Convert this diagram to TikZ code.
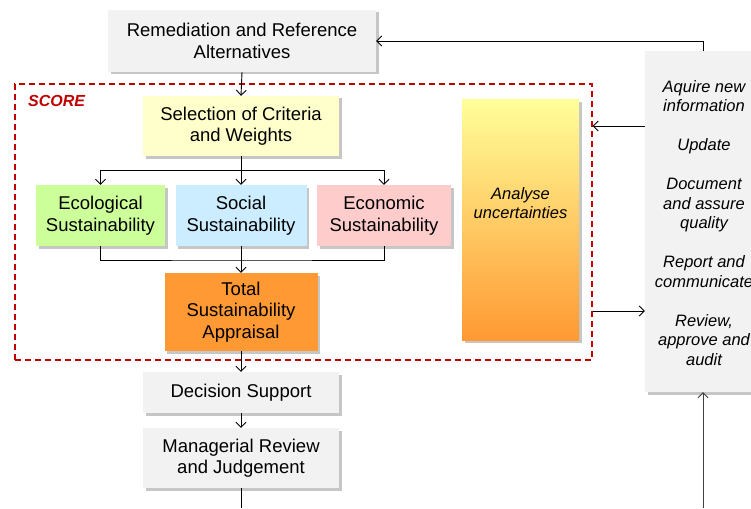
\documentclass[tikz,border=0pt]{standalone}
\usepackage{fontspec}
\setmainfont{Liberation Sans}
\usetikzlibrary{arrows.meta,shadows}
\definecolor{boxgray}{HTML}{F2F2F2}
\definecolor{selyellow}{HTML}{FFFFCC}
\definecolor{ecogreen}{HTML}{CCFF99}
\definecolor{socblue}{HTML}{CCECFF}
\definecolor{econpink}{HTML}{FFCCCC}
\definecolor{totorange}{HTML}{FF9933}
\definecolor{anatop}{HTML}{FFFF99}
\definecolor{scorered}{HTML}{C00000}
\definecolor{linegray}{HTML}{404040}
\tikzset{
  boxbase/.style={draw=none, align=center, inner sep=0pt,
    font=\fontsize{18.5}{21.5}\selectfont,
    drop shadow={shadow xshift=2.5pt, shadow yshift=-2.5pt, opacity=0.45, fill=gray}},
  graybox/.style={boxbase, fill=boxgray},
  conn/.style={draw=black, line width=0.9pt},
  arr/.style={conn, -{Straight Barb[length=5pt,width=10pt]}},
  sidetext/.style={align=center, inner sep=0pt, font=\fontsize{16.5}{19.5}\selectfont\itshape}
}
\begin{document}
\begin{tikzpicture}[x=1pt,y=-1pt]
\useasboundingbox (0,0) rectangle (751,508);
% score frame
\node[draw=scorered, line width=1.4pt, dash pattern=on 6pt off 4pt, minimum width=577pt, minimum height=276pt, inner sep=0pt] (score) at (303.5,222) {};
\node[anchor=west, inner sep=0pt, text=scorered, font=\fontsize{16}{19}\selectfont\bfseries\itshape] (scorelbl) at (28,101) {SCORE};
% main boxes
\node[graybox, minimum width=268pt, minimum height=62pt] (rem) at (242,41) {Remediation and Reference\\Alternatives};
\node[boxbase, fill=selyellow, minimum width=196pt, minimum height=60pt] (sel) at (241,126) {Selection of Criteria\\and Weights};
\node[boxbase, fill=ecogreen, minimum width=129pt, minimum height=61pt] (eco) at (100.5,215.5) {Ecological\\Sustainability};
\node[boxbase, fill=socblue, minimum width=131pt, minimum height=61pt] (soc) at (241,215.5) {Social\\Sustainability};
\node[boxbase, fill=econpink, minimum width=134pt, minimum height=61pt] (econ) at (384,215.5) {Economic\\Sustainability};
\node[boxbase, fill=totorange, minimum width=153pt, minimum height=78pt] (tot) at (241,312) {Total\\Sustainability\\Appraisal};
\node[boxbase, top color=anatop, bottom color=totorange, middle color=anatop!50!totorange, minimum width=117pt, minimum height=240pt] (ana) at (520.5,220) {};
\node[sidetext] (anatext) at (520.5,203) {Analyse\\uncertainties};
\node[graybox, minimum width=196pt, minimum height=41pt] (dec) at (241,392.5) {Decision Support};
\node[graybox, minimum width=196pt, minimum height=60pt] (man) at (241,458) {Managerial Review\\and Judgement};
% right box
\node[graybox, minimum width=116pt, minimum height=341pt] (rbox) at (703,221.5) {};
\node[sidetext] (rtext) at (704,223) {Aquire new\\information\\[19.5pt]Update\\[19.5pt]Document\\and assure\\quality\\[19.5pt]Report and\\communicate\\[19.5pt]Review,\\approve and\\audit};
% coordinates
\coordinate (br) at (241,170);
\coordinate (mg) at (241,260);
\coordinate (mbot) at (241,508);
\coordinate (rbot) at (703,508);
% connectors
\draw[arr] (rem.south) -- (sel.north);
\draw[conn] (sel.south) -- (br);
\draw[arr] (br) -| (eco.north);
\draw[arr] (br) -| (econ.north);
\draw[arr] (br) -- (soc.north);
\draw[conn] (eco.south) |- (mg) -| (econ.south);
\draw[arr] (soc.south) -- (tot.north);
\draw[arr] (tot.south) -- (dec.north);
\draw[arr] (dec.south) -- (man.north);
\draw[conn] (man.south) -- (mbot);
\draw[arr] (rbox.north) |- (rem.east);
\draw[arr] (rbox.west |- 0,126) -- (score.east |- 0,126);
\draw[arr] (score.east |- 0,311) -- (rbox.west |- 0,311);
\draw[arr, draw=linegray] (rbot) -- (rbox.south);
\end{tikzpicture}
\end{document}
